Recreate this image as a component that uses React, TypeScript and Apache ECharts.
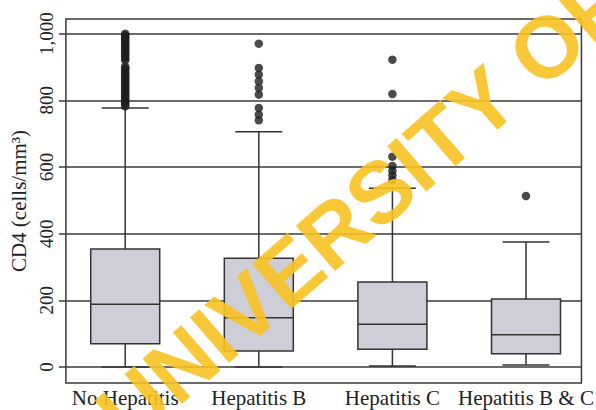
import React, { useEffect, useRef } from "react";
import * as echarts from "echarts";

const categories = ["No Hepatitis", "Hepatitis B", "Hepatitis C", "Hepatitis B & C"];
const whiskerLow = [0, 0, 3, 6];
const q1 = [70, 48, 53, 40];
const median = [188, 148, 128, 97];
const q3 = [354, 326, 255, 204];
const whiskerHigh = [777, 706, 536, 375];

const outliersNoHep = [1000, 995, 990, 985, 980, 974, 968, 962, 956, 950, 944, 938, 932, 926, 920, 901, 896, 890, 884, 878, 872, 866, 860, 854, 848, 842, 836, 830, 824, 818, 812, 806, 800, 794, 788, 782];
const outliersHepB = [970, 897, 877, 857, 837, 817, 777, 757, 740];
const outliersHepC = [922, 819, 631, 603, 588, 575, 561];
const outliersHepBC = [513];
const outlierGroups = [outliersNoHep, outliersHepB, outliersHepC, outliersHepBC];

const yTicks = [0, 200, 400, 600, 800, 1000];
const xPositions = [1, 2, 3, 4];

const FONT = "Liberation Serif";

export default function App() {
  const ref = useRef<HTMLDivElement>(null);
  useEffect(() => {
    if (!ref.current) return;
    const chart = echarts.init(ref.current, null, { renderer: "svg" });
    const boxData = categories.map((_, i) => [xPositions[i], whiskerLow[i], q1[i], median[i], q3[i], whiskerHigh[i]]);
    const outlierData: number[][] = [];
    outlierGroups.forEach((g, i) => g.forEach((v) => outlierData.push([xPositions[i], v])));
    const stroke = "#333";
    chart.setOption({
      animation: false,
      backgroundColor: "#fff",
      grid: {
        left: 57, right: 9, top: 19, bottom: 27,
        show: true, borderColor: "#3a3a3a", borderWidth: 1.5, backgroundColor: "transparent",
      },
      xAxis: {
        type: "value",
        min: 0.556,
        max: 4.415,
        axisLine: { show: false },
        axisTick: { show: false },
        splitLine: { show: false },
        axisLabel: {
          customValues: xPositions,
          formatter: (v: number) => categories[Math.round(v) - 1] ?? "",
          fontFamily: FONT,
          fontSize: 21,
          color: "#222",
          margin: 4,
        },
      },
      yAxis: {
        type: "value",
        min: -48,
        max: 1044,
        name: "CD4 (cells/mm³)",
        nameLocation: "middle",
        nameRotate: 90,
        nameGap: 31,
        nameTextStyle: { fontFamily: FONT, fontSize: 21, color: "#222" },
        axisLine: { show: false },
        axisTick: { show: true, customValues: yTicks, length: 7, inside: false, lineStyle: { color: "#3a3a3a", width: 1.5 } },
        splitLine: { show: true, lineStyle: { color: "#3a3a3a", width: 1.5 } },
        axisLabel: {
          customValues: yTicks,
          rotate: 90,
          margin: 10,
          fontFamily: FONT,
          fontSize: 19,
          color: "#222",
          formatter: (v: number) => v.toLocaleString("en-US"),
        },
      },
      series: [
        {
          type: "custom",
          data: boxData,
          encode: { x: 0, y: [1, 2, 3, 4, 5] },
          renderItem: (params: any, api: any) => {
            const x = api.value(0);
            const lo = api.coord([x, api.value(1)]);
            const p1 = api.coord([x, api.value(2)]);
            const pm = api.coord([x, api.value(3)]);
            const p3 = api.coord([x, api.value(4)]);
            const hi = api.coord([x, api.value(5)]);
            const cx = lo[0];
            const bw = 69;
            const cw = 47;
            const ls = { stroke, lineWidth: 1.5, fill: null };
            return {
              type: "group",
              children: [
                { type: "line", shape: { x1: cx, y1: hi[1], x2: cx, y2: p3[1] }, style: ls },
                { type: "line", shape: { x1: cx, y1: p1[1], x2: cx, y2: lo[1] }, style: ls },
                { type: "line", shape: { x1: cx - cw / 2, y1: hi[1], x2: cx + cw / 2, y2: hi[1] }, style: ls },
                { type: "line", shape: { x1: cx - cw / 2, y1: lo[1], x2: cx + cw / 2, y2: lo[1] }, style: ls },
                {
                  type: "rect",
                  shape: { x: cx - bw / 2, y: p3[1], width: bw, height: p1[1] - p3[1] },
                  style: { fill: "#cdced7", stroke, lineWidth: 1.5 },
                },
                { type: "line", shape: { x1: cx - bw / 2, y1: pm[1], x2: cx + bw / 2, y2: pm[1] }, style: ls },
              ],
            };
          },
          z: 3,
        },
        {
          type: "scatter",
          data: outlierData,
          symbol: "circle",
          symbolSize: 8.5,
          itemStyle: { color: "#1e1e1e" },
          z: 4,
        },
      ],
      graphic: [
        {
          type: "text",
          x: 110,
          y: 426,
          rotation: (41 * Math.PI) / 180,
          z: 100,
          silent: true,
          style: {
            text: "UNIVERSITY OF",
            fontSize: 87,
            fontWeight: "bold",
            fontFamily: "Liberation Sans",
            fill: "rgba(248,194,34,0.9)",
            textVerticalAlign: "middle",
            textAlign: "left",
          },
        },
      ],
    });
    return () => chart.dispose();
  }, []);
  return <div ref={ref} style={{ position: "fixed", left: 0, top: 0, width: 596, height: 410 }} />;
}
